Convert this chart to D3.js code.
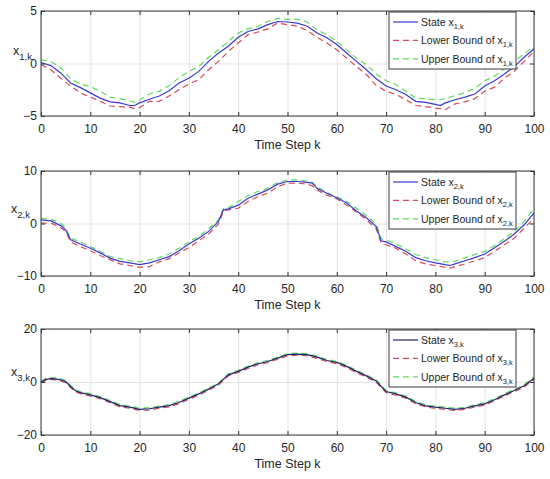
<!DOCTYPE html>
<html>
<head>
<meta charset="utf-8">
<script src="https://cdn.jsdelivr.net/npm/d3@7"></script>
<style>
  body { margin: 0; background: #ffffff; }
  svg { display: block; font-family: "Liberation Sans", Arial, sans-serif; }
  .tick text { fill: #262626; font-size: 12px; }
  .grid line { stroke: #e3e3e3; }
  .grid path, .grid text { display: none; }
  .ax path { display: none; }
  .ax line { stroke: #333333; }
</style>
</head>
<body>
<div id="vis"></div>
<script>
const FRAME_WIDTH = 550;
const FRAME_HEIGHT = 479;

// ---- data -----------------------------------------------------
const K_TICKS = [0, 10, 20, 30, 40, 50, 60, 70, 80, 90, 100];

// panel 1 : x_{1,k}
const K1 = [0,2,4,6,8,10,12,14,16,18,19,20,22,24,26,28,30,32,34,36,38,40,42,44,46,48,
            50,52,54,56,58,60,62,64,66,68,70,72,74,76,78,80,81,82,84,86,88,90,92,94,96,98,100];
const X1_STATE = [0.1,-0.2,-0.9,-1.85,-2.3,-2.8,-3.3,-3.65,-3.75,-4.0,-4.0,-3.75,-3.4,-3.1,-2.6,-1.85,-1.4,-0.75,0.2,1.0,1.65,2.5,3.05,3.3,3.7,4.0,
                  3.95,3.85,3.55,2.9,2.45,1.8,1.0,0.2,-0.6,-1.45,-2.15,-2.5,-2.95,-3.6,-3.7,-3.9,-4.0,-3.75,-3.45,-3.2,-2.9,-2.15,-1.65,-1.0,-0.3,0.6,1.4];
const X1_LOWER = [-0.1,-0.6,-1.4,-2.15,-2.8,-3.2,-3.6,-4.05,-4.1,-4.15,-4.3,-4.2,-3.6,-3.6,-3.1,-2.5,-1.95,-1.55,-0.6,0.2,1.15,1.95,2.75,3.0,3.3,3.85,
                  3.7,3.55,3.15,2.5,1.95,1.3,0.5,-0.3,-1.05,-2.1,-2.65,-2.95,-3.45,-4.0,-4.1,-4.25,-4.3,-4.4,-3.85,-3.65,-3.35,-2.65,-2.25,-1.4,-0.75,0.2,1.15];
const X1_UPPER = [0.35,0.2,-0.4,-1.45,-1.95,-2.2,-2.65,-3.2,-3.35,-3.55,-3.7,-3.45,-2.9,-2.65,-2.1,-1.35,-0.75,-0.3,0.6,1.3,2.1,2.9,3.3,3.55,4.0,4.3,
                  4.2,4.2,3.95,3.2,2.75,2.1,1.3,0.5,-0.1,-1.0,-1.65,-2.0,-2.65,-3.3,-3.35,-3.45,-3.45,-3.35,-3.05,-2.8,-2.35,-1.65,-1.2,-0.5,0.25,0.9,1.65];

// panel 2 : x_{2,k}
const K2 = [0,2,4,5,6,8,10,12,14,16,18,20,22,24,26,28,30,32,34,36,37,38,40,42,44,46,48,50,52,54,55,
            56,58,60,62,64,66,68,69,70,72,74,76,78,80,82,83,84,86,88,90,92,94,96,98,100];
const X2_STATE = [0.7,0.5,-0.4,-1.2,-3.1,-3.9,-4.7,-5.6,-6.6,-7.2,-7.5,-7.85,-7.5,-6.9,-6.3,-5.2,-3.9,-2.8,-1.5,0.4,2.6,2.8,3.5,4.8,5.6,6.4,7.5,8.0,8.0,7.85,7.7,
                  6.7,5.75,4.9,3.9,2.4,1.1,-0.6,-3.3,-3.5,-4.4,-5.3,-6.5,-7.1,-7.5,-7.85,-8.0,-7.7,-7.1,-6.5,-5.8,-4.6,-3.4,-2.0,-0.25,2.0];
const X2_LOWER = [0.1,0.1,-0.8,-1.5,-3.5,-4.4,-5.2,-6.1,-6.9,-7.7,-8.0,-8.35,-8.2,-7.3,-6.7,-5.6,-4.6,-3.3,-2.0,-0.1,2.3,2.6,2.9,4.2,5.1,5.8,7.0,7.7,7.7,7.5,7.2,
                  6.4,5.4,4.7,3.5,2.2,0.7,-1.0,-3.7,-4.05,-4.7,-5.8,-7.1,-7.7,-8.0,-8.35,-8.5,-8.2,-7.7,-7.1,-6.5,-5.3,-4.05,-2.8,-0.9,1.0];
const X2_UPPER = [1.0,0.8,0.1,-0.9,-2.8,-3.5,-4.4,-5.3,-6.3,-6.7,-7.1,-7.3,-6.9,-6.5,-5.8,-4.7,-3.5,-2.5,-1.0,0.7,2.8,3.0,4.2,5.3,6.1,6.7,7.8,8.3,8.3,8.1,7.85,
                  7.0,5.9,5.1,4.2,2.9,1.5,-0.1,-2.9,-3.1,-3.9,-4.8,-5.9,-6.5,-6.9,-7.3,-7.3,-7.2,-6.5,-5.9,-5.3,-4.2,-2.9,-1.5,0.4,2.8];

// panel 3 : x_{3,k}
const K3 = [0,1,2,3,4,5,6,7,8,10,12,14,16,18,20,22,24,26,28,30,32,34,36,38,40,42,44,46,48,
            50,52,54,56,58,60,62,64,66,68,69,70,72,74,76,78,80,82,84,86,88,90,92,94,96,98,100];
const X3_STATE = [0.0,1.0,1.3,1.2,0.8,0.2,-1.7,-3.3,-4.0,-4.85,-5.9,-7.4,-8.9,-9.5,-10.3,-10.1,-9.5,-8.9,-7.75,-6.1,-4.5,-2.7,-0.7,2.7,4.0,5.6,6.9,7.75,9.0,
                  10.3,10.5,10.3,9.4,8.1,7.4,5.9,4.0,2.3,0.4,-1.7,-3.6,-4.5,-5.7,-7.75,-9.0,-9.5,-9.9,-10.3,-9.9,-9.0,-8.25,-6.7,-4.85,-3.2,-1.45,1.45];
const X3_LOWER = [-0.3,0.6,0.9,0.8,0.4,-0.3,-2.1,-3.7,-4.4,-5.3,-6.3,-7.8,-9.4,-9.9,-10.7,-10.6,-9.9,-9.4,-8.2,-6.5,-5.0,-3.1,-1.2,2.3,3.6,5.1,6.5,7.3,8.6,
                  9.8,10.1,9.9,8.9,7.7,6.9,5.5,3.5,1.9,-0.1,-2.1,-4.0,-5.0,-6.1,-8.2,-9.4,-10.0,-10.3,-10.8,-10.3,-9.5,-8.7,-7.1,-5.3,-3.6,-1.9,1.0];
const X3_UPPER = [0.3,1.4,1.7,1.6,1.2,0.6,-1.3,-2.9,-3.6,-4.4,-5.5,-7.0,-8.5,-9.1,-9.9,-9.7,-9.1,-8.5,-7.3,-5.7,-4.1,-2.3,-0.3,3.1,4.4,6.0,7.3,8.2,9.4,
                  10.7,10.9,10.7,9.8,8.5,7.8,6.3,4.4,2.7,0.8,-1.3,-3.2,-4.1,-5.3,-7.3,-8.6,-9.1,-9.5,-9.9,-9.5,-8.6,-7.8,-6.3,-4.4,-2.8,-1.0,1.9];

const Y1_TICKS = [-5, 0, 5];
const Y2_TICKS = [-10, 0, 10];
const Y3_TICKS = [-20, 0, 20];

// ---- layout ---------------------------------------------------
const PLOT_LEFT = 41;
const PLOT_RIGHT = 534;
const PANELS = [
  {top: 11,  bottom: 116, k: K1, state: X1_STATE, lower: X1_LOWER, upper: X1_UPPER,
   yTicks: Y1_TICKS, idx: "1", labelX: 32, labelDy: 44, stateColor: "#3a3ad2"},
  {top: 171, bottom: 276, k: K2, state: X2_STATE, lower: X2_LOWER, upper: X2_UPPER,
   yTicks: Y2_TICKS, idx: "2", labelX: 30, labelDy: 42, stateColor: "#3a3ad2"},
  {top: 329, bottom: 435, k: K3, state: X3_STATE, lower: X3_LOWER, upper: X3_UPPER,
   yTicks: Y3_TICKS, idx: "3", labelX: 30, labelDy: 47, stateColor: "#22226e"}
];
const LOWER_COLOR = "#d84b5a";
const UPPER_COLOR = "#5cdc5c";

const FRAME = d3.select("#vis")
  .append("svg")
    .attr("width", FRAME_WIDTH)
    .attr("height", FRAME_HEIGHT);

const X_SCALE = d3.scaleLinear()
  .domain([0, 100])
  .range([PLOT_LEFT, PLOT_RIGHT]);

// adds "x" + subscript to a text element
function addSub(txt, base, sub, subSize, shift) {
  txt.append("tspan").text(base);
  txt.append("tspan")
    .attr("font-size", subSize)
    .attr("dy", shift)
    .text(sub);
}

PANELS.forEach((p) => {
  const yMax = d3.max(p.yTicks);
  const Y_SCALE = d3.scaleLinear()
    .domain([-yMax, yMax])
    .range([p.bottom, p.top]);
  const h = p.bottom - p.top;
  const w = PLOT_RIGHT - PLOT_LEFT;

  // grid lines
  FRAME.append("g")
    .attr("class", "grid")
    .attr("transform", "translate(0," + p.bottom + ")")
    .call(d3.axisBottom(X_SCALE).tickValues(K_TICKS).tickSize(-h).tickFormat(""));
  FRAME.append("g")
    .attr("class", "grid")
    .attr("transform", "translate(" + PLOT_LEFT + ",0)")
    .call(d3.axisLeft(Y_SCALE).tickValues(p.yTicks).tickSize(-w).tickFormat(""));

  // series
  const series = [
    {vals: p.lower, color: LOWER_COLOR, dash: "6,4"},
    {vals: p.upper, color: UPPER_COLOR, dash: "6,4"},
    {vals: p.state, color: p.stateColor, dash: null}
  ];
  const line = d3.line()
    .x((d) => X_SCALE(d[0]))
    .y((d) => Y_SCALE(d[1]));
  series.forEach((s) => {
    FRAME.append("path")
      .datum(p.k.map((k, i) => [k, s.vals[i]]))
      .attr("d", line)
      .attr("fill", "none")
      .attr("stroke", s.color)
      .attr("stroke-width", 1.2)
      .attr("stroke-dasharray", s.dash);
  });

  // axes with inward ticks on all four sides
  FRAME.append("g").attr("class", "ax")
    .attr("transform", "translate(0," + p.bottom + ")")
    .call(d3.axisBottom(X_SCALE).tickValues(K_TICKS).tickSizeInner(-4).tickSizeOuter(0).tickPadding(8));
  FRAME.append("g").attr("class", "ax")
    .attr("transform", "translate(0," + p.top + ")")
    .call(d3.axisTop(X_SCALE).tickValues(K_TICKS).tickSizeInner(-4).tickSizeOuter(0).tickFormat(""));
  FRAME.append("g").attr("class", "ax")
    .attr("transform", "translate(" + PLOT_LEFT + ",0)")
    .call(d3.axisLeft(Y_SCALE).tickValues(p.yTicks).tickSizeInner(-4).tickSizeOuter(0).tickPadding(4));
  FRAME.append("g").attr("class", "ax")
    .attr("transform", "translate(" + PLOT_RIGHT + ",0)")
    .call(d3.axisRight(Y_SCALE).tickValues(p.yTicks).tickSizeInner(-4).tickSizeOuter(0).tickFormat(""));

  // box
  FRAME.append("rect")
    .attr("x", PLOT_LEFT).attr("y", p.top)
    .attr("width", w).attr("height", h)
    .attr("fill", "none")
    .attr("stroke", "#3a3a3a")
    .attr("stroke-width", 1);

  // x label
  FRAME.append("text")
    .attr("x", (PLOT_LEFT + PLOT_RIGHT) / 2)
    .attr("y", p.bottom + 33)
    .attr("text-anchor", "middle")
    .attr("font-size", "12.5px")
    .attr("fill", "#262626")
    .text("Time Step k");

  // y label, horizontal
  const yl = FRAME.append("text")
    .attr("x", p.labelX)
    .attr("y", p.top + p.labelDy)
    .attr("text-anchor", "end")
    .attr("font-size", "12.5px")
    .attr("fill", "#262626");
  addSub(yl, "x", p.idx + ",k", "9.5px", 5);

  // legend
  const LX = 389, LW = 127, LH = 57;
  const leg = FRAME.append("g")
    .attr("transform", "translate(" + LX + "," + (p.top + 1) + ")");
  leg.append("rect")
    .attr("width", LW).attr("height", LH)
    .attr("fill", "#ffffff")
    .attr("stroke", "#3a3a3a");
  const entries = [
    {name: "State x", color: p.stateColor, dash: null},
    {name: "Lower Bound of x", color: LOWER_COLOR, dash: "6,4"},
    {name: "Upper Bound of x", color: UPPER_COLOR, dash: "6,4"}
  ];
  entries.forEach((e, i) => {
    const ly = 10 + i * 18.4;
    leg.append("line")
      .attr("x1", 4).attr("x2", 29)
      .attr("y1", ly).attr("y2", ly)
      .attr("stroke", e.color)
      .attr("stroke-width", 1.2)
      .attr("stroke-dasharray", e.dash);
    const t = leg.append("text")
      .attr("x", 32)
      .attr("y", ly + 4)
      .attr("font-size", "10.5px")
      .attr("fill", "#262626");
    addSub(t, e.name, p.idx + ",k", "7.5px", 3);
  });
});
</script>
</body>
</html>
